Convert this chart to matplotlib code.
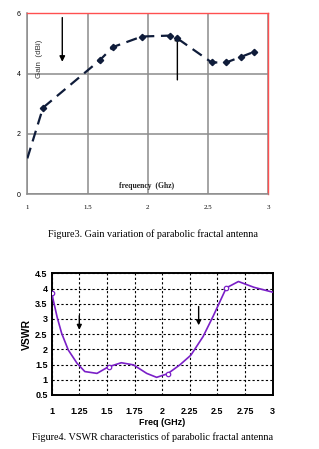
import matplotlib
matplotlib.use("Agg")
import matplotlib.pyplot as plt

# --- Figure 3: gain vs frequency ---
gain_freq = [1.0, 1.13, 1.60, 1.71, 1.95, 2.18, 2.24, 2.53, 2.65, 2.77, 2.88]
gain_dbi = [1.19, 2.87, 4.44, 4.88, 5.23, 5.26, 5.18, 4.37, 4.37, 4.55, 4.72]
gain_marker_idx = list(range(1, len(gain_freq)))
gain_xticks = [1, 1.5, 2, 2.5, 3]
gain_yticks = [0, 2, 4, 6]

# --- Figure 4: VSWR vs frequency ---
vswr_freq = [1.0, 1.05, 1.09, 1.15, 1.23, 1.30, 1.41, 1.51, 1.63, 1.74, 1.86,
             1.95, 2.05, 2.16, 2.26, 2.37, 2.46, 2.58, 2.69, 2.83, 3.0]
vswr_val = [3.85, 3.05, 2.53, 1.98, 1.54, 1.27, 1.21, 1.42, 1.56, 1.49, 1.21,
            1.08, 1.20, 1.49, 1.81, 2.42, 3.08, 4.02, 4.23, 4.04, 3.88]
vswr_marker_freq = [1.0, 1.52, 2.05, 2.58]
vswr_marker_val = [3.85, 1.42, 1.20, 4.02]
vswr_xticks = [1, 1.25, 1.5, 1.75, 2, 2.25, 2.5, 2.75, 3]
vswr_xlabels = ["1", "1.25", "1.5", "1.75", "2", "2.25", "2.5", "2.75", "3"]
vswr_yticks = [0.5, 1, 1.5, 2, 2.5, 3, 3.5, 4, 4.5]
vswr_ylabels = ["0.5", "1", "1.5", "2", "2.5", "3", "3.5", "4", "4.5"]

serif = ["Liberation Serif", "DejaVu Serif"]
sans = ["Liberation Sans", "DejaVu Sans"]
narrow = ["Liberation Sans Narrow", "Liberation Sans", "DejaVu Sans"]

fig = plt.figure(figsize=(3.19, 4.49), dpi=100)

# ===== top chart =====
ax1 = fig.add_axes([0.0857, 0.5673, 0.7555, 0.4031])
navy = "#0f1c3a"
grid_grey = "#8c8c8c"
ax1.plot(gain_freq, gain_dbi, color=navy, linewidth=1.6, dashes=(5, 3), zorder=3)
ax1.plot([gain_freq[i] for i in gain_marker_idx], [gain_dbi[i] for i in gain_marker_idx],
         linestyle="none", marker="D", markersize=3.2, color=navy, zorder=4)
ax1.set_xlim(1, 3)
ax1.set_ylim(0, 6)
ax1.set_xticks(gain_xticks)
ax1.set_xticklabels([str(t) for t in gain_xticks], family=serif, fontsize=5)
ax1.set_yticks(gain_yticks)
ax1.set_yticklabels([str(t) for t in gain_yticks], family=sans, fontsize=5)
ax1.tick_params(length=0, pad=8)
ax1.tick_params(axis="y", pad=5)
ax1.grid(True, color=grid_grey, linewidth=1.1)
ax1.set_axisbelow(True)
for s in ("top", "right"):
    ax1.spines[s].set_color("#ff5050")
    ax1.spines[s].set_linewidth(1.0)
for s in ("bottom", "left"):
    ax1.spines[s].set_color(grid_grey)
    ax1.spines[s].set_linewidth(1.1)
ax1.text(1.105, 4.5, "Gain  (dBi)", rotation=90, ha="center", va="center",
         family=sans, fontsize=5.8, color="#333333")
ax1.text(1.99, 0.28, "frequency  (Ghz)", ha="center", va="center",
         family=serif, fontsize=5.5, fontweight="bold", color="#222222")
ax1.annotate("", xy=(1.29, 4.3), xytext=(1.29, 5.95),
             arrowprops=dict(arrowstyle="-|>", color="black", lw=1.0, mutation_scale=8))
ax1.annotate("", xy=(2.245, 5.38), xytext=(2.245, 3.7),
             arrowprops=dict(arrowstyle="-|>", color="black", lw=1.0, mutation_scale=8))
fig.text(0.48, 1 - 234 / 449, "Figure3. Gain variation of parabolic fractal antenna",
         ha="center", va="center", family=serif, fontsize=7.3)

# ===== bottom chart =====
ax2 = fig.add_axes([0.162, 0.1203, 0.6928, 0.271])
purple = "#7a1fc7"
ax2.plot(vswr_freq, vswr_val, color=purple, linewidth=1.2, zorder=3)
ax2.plot(vswr_marker_freq, vswr_marker_val, linestyle="none", marker="o",
         markersize=3.2, markerfacecolor="white", markeredgecolor=purple,
         markeredgewidth=0.9, zorder=4)
ax2.set_xlim(1, 3)
ax2.set_ylim(0.5, 4.5)
ax2.set_xticks(vswr_xticks)
ax2.set_xticklabels(vswr_xlabels, family=narrow, fontsize=6.5, fontweight="bold")
ax2.set_yticks(vswr_yticks)
ax2.set_yticklabels(vswr_ylabels, family=narrow, fontsize=6.5, fontweight="bold")
ax2.tick_params(length=0)
ax2.tick_params(axis="x", pad=9)
ax2.tick_params(axis="y", pad=3)
ax2.grid(True, color="black", linestyle=(0, (2, 2)), linewidth=0.8)
ax2.set_axisbelow(True)
for s in ax2.spines.values():
    s.set_linewidth(1.4)
ax2.set_xlabel("Freq (GHz)", family=narrow, fontsize=6.5, fontweight="bold", labelpad=1)
ax2.set_ylabel("VSWR", family=narrow, fontsize=7.5, fontweight="bold", labelpad=2)
ax2.annotate("", xy=(1.25, 2.55), xytext=(1.25, 3.2),
             arrowprops=dict(arrowstyle="-|>", color="black", lw=1.0, mutation_scale=7))
ax2.annotate("", xy=(2.33, 2.7), xytext=(2.33, 3.5),
             arrowprops=dict(arrowstyle="-|>", color="black", lw=1.0, mutation_scale=7))
fig.text(0.478, 1 - 437 / 449, "Figure4. VSWR characteristics of parabolic fractal antenna",
         ha="center", va="center", family=serif, fontsize=7.3)

fig.savefig("out.png", dpi=100)
